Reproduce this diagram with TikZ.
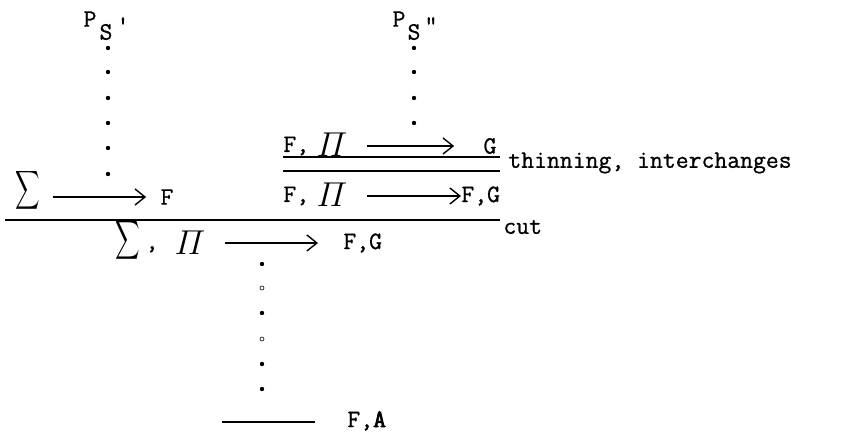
\documentclass[tikz,border=0pt]{standalone}
\usepackage{fontspec}
\newfontfamily\twfont{Latin Modern Mono}[FakeBold=0.8,
  BoldFont={Latin Modern Mono}, BoldFeatures={FakeBold=3}]
\usetikzlibrary{arrows.meta}
\newcommand{\bigsig}{\scalebox{0.85}[1.35]{$\displaystyle\sum$}}
\tikzset{
  lbl/.style={font=\fontsize{12.5}{14}\selectfont\twfont, inner sep=0pt},
  bigop/.style={inner sep=0pt},
  pisym/.style={font=\fontsize{17}{19}\selectfont, inner sep=0pt},
  seq/.style={-{Straight Barb[length=5pt,width=8pt]}, line width=0.7pt},
  rulel/.style={line width=0.9pt},
  dot/.style={circle, fill, inner sep=0pt, minimum size=2.2pt},
  odot/.style={circle, draw, line width=0.3pt, inner sep=0pt, minimum size=2pt},
}
\begin{document}
\begin{tikzpicture}[x=0.5pt,y=-0.5pt]
  \useasboundingbox (0,0) rectangle (856,433);
  % premises
  \node[lbl] (pl) at (90,19) {P};
  \node[lbl] (pls) at (106,32) {S};
  \node[lbl] (plp) at (123,25) {\textquotesingle};
  \node[lbl] (pr) at (399,19) {P};
  \node[lbl] (prs) at (414,32) {S};
  \node[lbl] (prp) at (431,25) {"};
  \foreach \y in {48,72,98,123,148,174}
    \node[dot] (dl\y) at (108,\y) {};
  \foreach \y in {48,72,98,123}
    \node[dot] (dr\y) at (414,\y) {};
  % left branch
  \node[bigop] (sl) at (28,190) {\bigsig};
  \node[lbl] (fl) at (167,197) {F};
  \draw[seq, shorten <=6pt, shorten >=7pt] (sl.east |- fl.center) -- (fl.west);
  % right branch, upper sequent
  \node[lbl, anchor=west] (fa) at (283,146) {F,};
  \node[pisym] (pa) at (332,145) {$\mathnormal{\Pi}$};
  \node[lbl] (ga) at (490,146) {G};
  \draw[seq, shorten <=9.5pt, shorten >=14.5pt] (pa.east |- ga.center) -- (ga.west);
  \draw[rulel] (283,157) -- (500,157);
  \draw[rulel] (283,171) -- (500,171);
  \node[lbl, anchor=west] (thin) at (508,163) {thinning, interchanges};
  % right branch, lower sequent
  \node[lbl, anchor=west] (fb) at (283,196) {F,};
  \node[pisym] (pb) at (332,195) {$\mathnormal{\Pi}$};
  \node[lbl, anchor=west] (fgb) at (461,196) {F,G};
  \draw[seq, shorten <=9.5pt] (pb.east |- fgb.center) -- (fgb.west);
  % cut
  \draw[rulel] (5,220) -- (500,220);
  \node[lbl, anchor=west] (cut) at (503,227) {cut};
  % conclusion
  \node[bigop] (sc) at (128,240) {\bigsig};
  \node[lbl, anchor=base] (cc) at (152,249) {,};
  \node[pisym] (pc) at (190,243) {$\mathnormal{\Pi}$};
  \node[lbl, anchor=west] (fgc) at (343,243) {F,G};
  \draw[seq, shorten <=9.5pt, shorten >=12.5pt] (pc.east |- fgc.center) -- (fgc.west);
  \foreach \y/\s in {264/dot,288/odot,313/dot,339/odot,364/dot,389/dot}
    \node[\s] (dc\y) at (262,\y) {};
  \draw[rulel] (222,422) -- (315,422);
  \node[lbl, anchor=west] (fac) at (347,421) {F,\textbf{A}};
\end{tikzpicture}
\end{document}
